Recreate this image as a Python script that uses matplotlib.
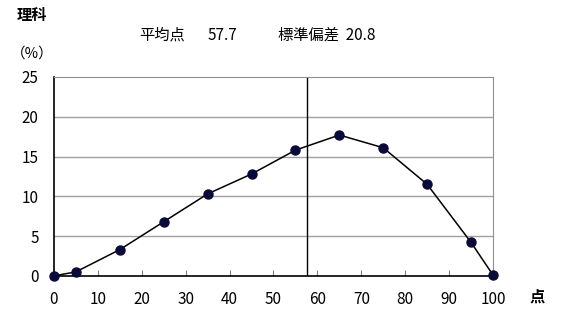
import numpy as np
import matplotlib.pyplot as plt

plt.rcParams['font.family'] = ['Noto Sans CJK JP', 'DejaVu Sans']

# score distribution (percent of students per 10-point band)
scores = [0, 5, 15, 25, 35, 45, 55, 65, 75, 85, 95, 100]
percent = [0.0, 0.5, 3.3, 6.8, 10.3, 12.8, 15.8, 17.7, 16.1, 11.5, 4.2, 0.1]
mean_score = 57.7
std_dev = 20.8
subject = "理科"

fig = plt.figure(figsize=(5.68, 3.36), dpi=100)
ax = fig.add_axes([0.095, 0.179, 0.773, 0.592])

ax.set_xlim(0, 100)
ax.set_ylim(0, 25)
ax.set_xticks(np.arange(0, 101, 10))
ax.set_yticks(np.arange(0, 26, 5))

for y in [5, 10, 15, 20]:
    ax.axhline(y, color='#a0a0a0', lw=1, zorder=1)

ax.axvline(mean_score, color='black', lw=1, zorder=2)
ax.plot(scores, percent, color='black', lw=1.1, marker='o', ms=6.5,
        markerfacecolor='#0a0a3a', markeredgecolor='#0a0a3a', zorder=3,
        clip_on=False)

for s in ['top', 'right']:
    ax.spines[s].set_color('#909090')
for s in ['left', 'bottom']:
    ax.spines[s].set_color('black')
    ax.spines[s].set_linewidth(1.2)

ax.tick_params(axis='x', direction='in', length=4, width=0.8, color='#808080',
               labelsize=11, pad=11)
ax.tick_params(axis='y', length=0, labelsize=11, pad=11)

fig.text(0.03, 0.955, subject, fontsize=11, fontweight='bold', va='center')
fig.text(0.02, 0.84, "（%）", fontsize=10.5, va='center')
fig.text(0.245, 0.895, "平均点", fontsize=11, va='center')
fig.text(0.365, 0.895, f"{mean_score}", fontsize=11, va='center')
fig.text(0.49, 0.895, f"標準偏差  {std_dev}", fontsize=11, va='center')
fig.text(0.933, 0.118, "点", fontsize=11, fontweight='bold', va='center')

fig.savefig("out.png", dpi=100)
